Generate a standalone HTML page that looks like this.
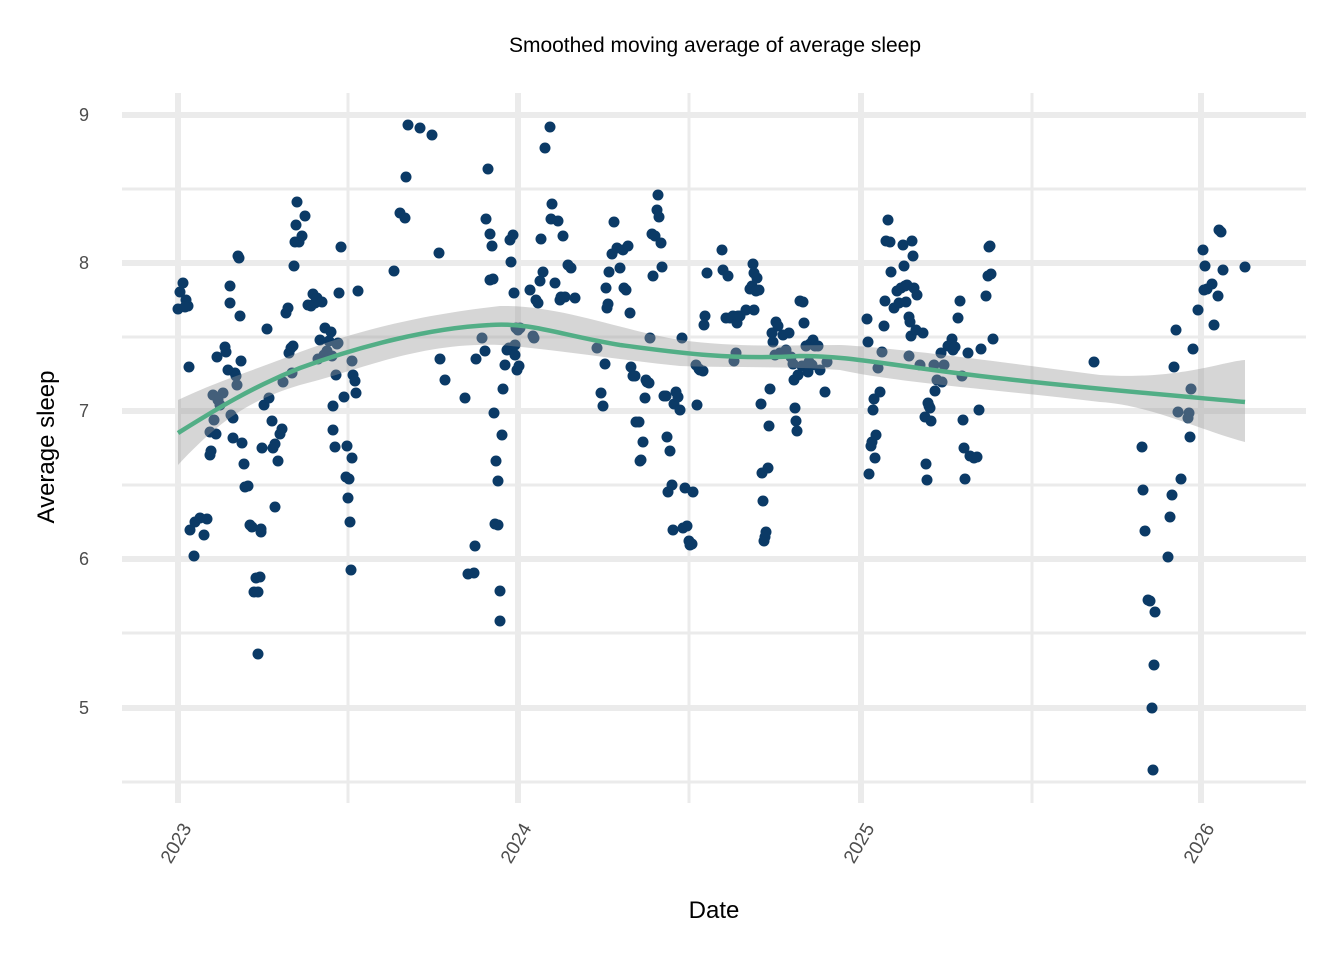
<!DOCTYPE html>
<html><head><meta charset="utf-8"><style>
html,body{margin:0;padding:0;background:#fff;}
svg{display:block;font-family:"Liberation Sans",sans-serif;}
</style></head><body>
<svg id="s" width="1344" height="960" xmlns="http://www.w3.org/2000/svg">
<rect width="1344" height="960" fill="#fff"/>
<g stroke="#ebebeb" stroke-width="3">
<line x1="122" x2="1306" y1="189" y2="189"/><line x1="122" x2="1306" y1="337" y2="337"/>
<line x1="122" x2="1306" y1="485" y2="485"/><line x1="122" x2="1306" y1="633" y2="633"/>
<line x1="122" x2="1306" y1="782" y2="782"/>
<line y1="93" y2="803" x1="348" x2="348"/><line y1="93" y2="803" x1="689" x2="689"/><line y1="93" y2="803" x1="1032" x2="1032"/>
</g>
<g stroke="#ebebeb" stroke-width="6">
<line x1="122" x2="1306" y1="115" y2="115"/><line x1="122" x2="1306" y1="263" y2="263"/>
<line x1="122" x2="1306" y1="411" y2="411"/><line x1="122" x2="1306" y1="559" y2="559"/>
<line x1="122" x2="1306" y1="708" y2="708"/>
<line y1="93" y2="803" x1="178" x2="178"/><line y1="93" y2="803" x1="518" x2="518"/>
<line y1="93" y2="803" x1="861" x2="861"/><line y1="93" y2="803" x1="1201" x2="1201"/>
</g>
<g id="pts" fill="#0b3a66"></g>
<path d="M178,400 C220,380 250,372 300,352 C360,330 420,315 500,306 C560,305 620,330 680,340 C740,348 790,345 840,345 C900,348 1000,362 1100,375 C1180,380 1220,362 1245,360 L1245,442 C1200,430 1150,405 1100,402 C1000,390 900,383 840,370 C790,366 740,368 680,366 C620,360 560,350 500,345 C420,342 360,370 300,385 C250,400 220,420 178,465 Z" fill="#999" fill-opacity="0.4"/>
<path d="M178,433 C215,410 250,388 300,368 C360,346 430,328 490,325 C530,322 560,335 620,345 C680,353 730,360 800,356 C850,356 880,364 980,376 C1080,388 1180,396 1245,402" fill="none" stroke="#52ae86" stroke-width="4.5"/>
<g fill="#4d4d4d" font-size="18" text-anchor="end">
<text x="89" y="121">9</text><text x="89" y="269">8</text><text x="89" y="417">7</text>
<text x="89" y="565">6</text><text x="89" y="714">5</text>
</g>
<g fill="#4d4d4d" font-size="19" text-anchor="end">
<text transform="translate(192,828) rotate(-60)">2023</text>
<text transform="translate(532,828) rotate(-60)">2024</text>
<text transform="translate(875,828) rotate(-60)">2025</text>
<text transform="translate(1215,828) rotate(-60)">2026</text>
</g>
<text x="715" y="52" font-size="21" text-anchor="middle">Smoothed moving average of average sleep</text>
<text x="714" y="918" font-size="24" text-anchor="middle">Date</text>
<text transform="translate(54,447) rotate(-90)" font-size="24" text-anchor="middle">Average sleep</text>
</svg>
<script>
var p=[178,309,180,292,183,283,186,300,188,306,185,307,189,367,190,530,194,556,195,522,200,518,204,535,207,519,210,455,211,451,210,432,213,395,214,420,216,434,217,357,218,400,220,405,223,393,225,347,226,352,228,370,230,303,230,286,231,415,233,418,233,438,235,373,236,376,237,385,238,256,239,258,240,316,241,361,242,443,244,464,245,487,248,486,250,525,252,527,254,592,256,578,258,654,258,592,260,577,261,532,261,529,262,448,264,405,267,329,269,398,272,421,273,448,275,444,275,507,278,461,280,434,282,429,283,382,286,313,288,308,289,353,291,348,292,373,293,346,294,266,295,242,296,225,297,202,299,242,302,236,305,216,308,305,311,306,313,294,315,303,317,298,318,359,320,340,322,302,324,355,325,328,327,351,329,341,331,332,332,356,333,430,333,406,335,447,336,375,337,344,338,343,339,293,341,247,344,397,346,477,347,446,348,498,349,479,350,522,351,570,352,458,353,375,355,381,356,393,358,291,352,361,
394,271,400,213,405,218,406,177,408,125,420,128,432,135,439,253,440,359,445,380,465,398,468,574,474,573,475,546,476,359,482,338,485,351,486,219,488,169,490,234,490,280,492,246,493,279,494,413,496,461,495,524,498,525,498,481,500,591,500,621,502,435,503,389,505,365,507,350,509,348,510,240,511,262,513,235,514,293,515,345,515,355,516,328,517,370,519,366,520,328,518,330,
530,290,533,336,534,338,536,300,538,303,540,281,541,239,543,272,545,148,550,127,552,204,551,219,555,283,558,221,560,300,561,297,563,236,565,297,568,265,571,268,575,298,597,348,601,393,603,406,605,364,606,288,607,308,608,304,609,272,612,254,614,222,617,248,620,268,623,250,624,288,626,290,628,246,630,313,631,367,633,376,635,376,636,422,639,422,640,461,641,460,643,442,645,398,646,380,647,382,649,383,650,338,652,234,653,276,655,236,657,210,658,195,659,217,661,243,662,267,664,396,666,396,667,437,668,492,670,451,672,485,673,530,674,404,676,392,678,397,680,410,682,338,683,528,685,488,687,526,689,541,690,545,692,544,693,492,696,365,697,405,699,369,700,370,703,371,704,325,705,316,707,273,722,250,723,270,726,318,728,276,730,318,733,316,734,361,736,353,737,323,738,316,740,316,746,310,750,289,752,286,754,273,754,310,753,264,756,291,757,278,759,290,761,404,762,473,763,501,764,541,765,537,766,532,768,468,769,426,770,389,772,333,773,342,775,355,776,322,778,326,780,353,783,335,786,350,789,333,791,357,793,364,794,380,795,408,796,421,797,431,798,375,800,301,802,366,803,302,804,323,806,346,808,372,809,362,810,344,812,365,813,340,815,346,818,346,820,370,825,392,827,362,
867,319,868,342,869,474,871,446,872,442,873,410,874,399,875,458,876,435,878,368,880,392,882,352,884,326,885,301,886,241,888,220,890,242,891,272,894,308,897,291,899,303,901,288,903,245,904,266,905,286,906,302,907,285,909,317,910,322,911,336,912,241,913,256,914,288,916,330,917,295,909,356,920,365,923,333,925,417,926,464,927,480,928,403,929,406,930,408,931,421,934,365,935,391,937,380,941,353,942,382,944,365,948,346,952,339,953,350,955,347,958,318,960,301,962,376,963,420,964,448,965,479,968,353,970,456,974,458,977,457,979,410,981,349,986,296,988,276,989,247,990,246,991,274,993,339,
1094,362,1142,447,1143,490,1145,531,1148,600,1150,601,1152,708,1153,770,1154,665,1155,612,1168,557,1170,517,1172,495,1174,367,1176,330,1178,412,1181,479,1188,418,1189,413,1190,437,1191,389,1193,349,1198,310,1203,250,1204,290,1205,266,1207,289,1212,284,1214,325,1218,296,1219,230,1221,232,1223,270,1245,267];
var g=document.getElementById('pts'),h='';
for(var i=0;i<p.length;i+=2){h+='<circle cx="'+p[i]+'" cy="'+p[i+1]+'" r="5.5"/>';}
g.innerHTML=h;
</script>
</body></html>
